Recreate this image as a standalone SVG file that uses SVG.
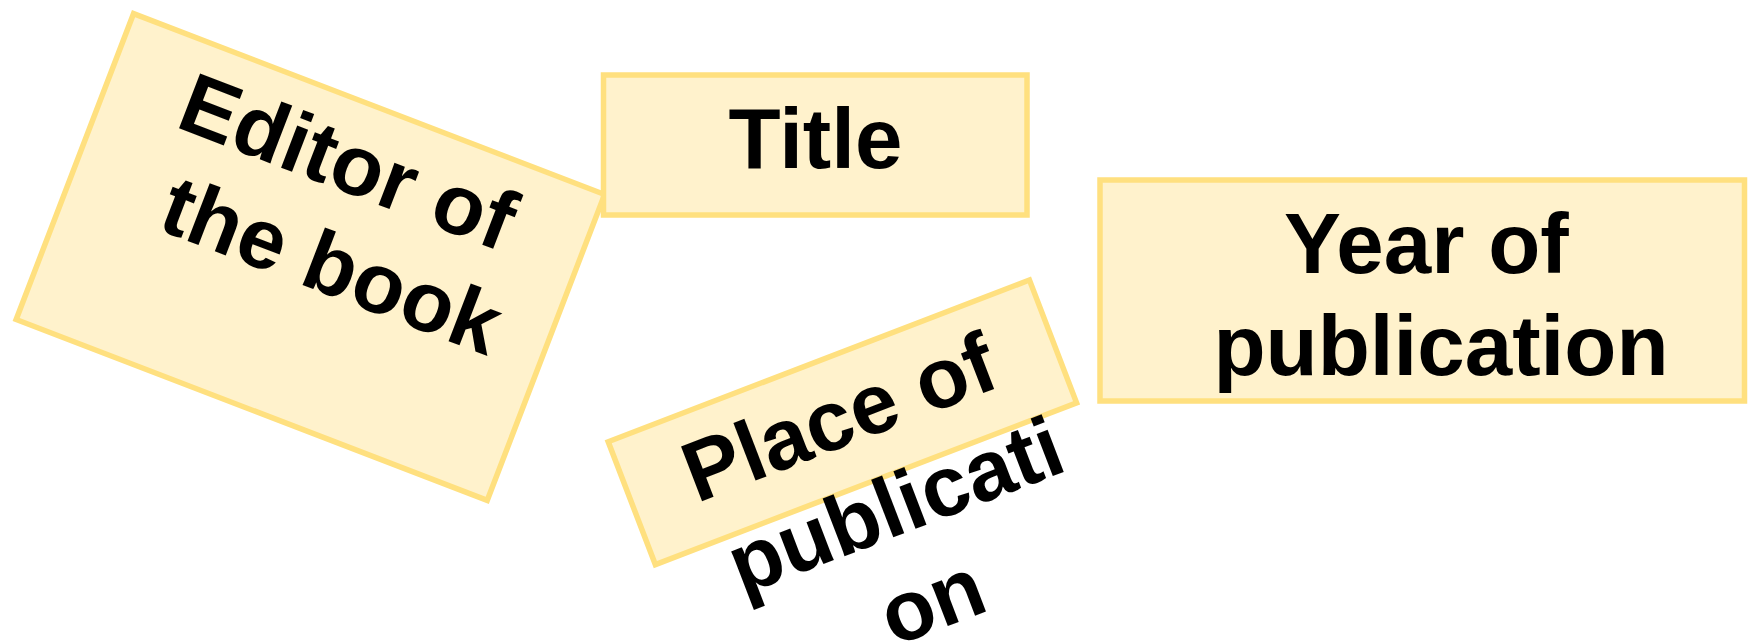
<svg xmlns="http://www.w3.org/2000/svg" width="1750" height="643" viewBox="0 0 1750 643">
  <style>
    .box { fill: #FFF2CC; stroke: #FFE07F; stroke-width: 5.5; }
    .lbl { font-family: "Liberation Sans", Arial, sans-serif; font-weight: bold; font-size: 85.33px; fill: #000000; text-anchor: middle; }
  </style>
  <rect width="1750" height="643" fill="#FFFFFF"/>
  <g id="connectors"/>
  <g id="node-editor" transform="translate(310.4,257) rotate(21)">
    <rect class="box" x="-252.3" y="-163.8" width="504.6" height="327.6"/>
    <text class="lbl" x="1" y="-73">Editor of</text>
    <text class="lbl" x="23" y="29">the book</text>
  </g>
  <g id="node-title">
    <rect class="box" x="603.5" y="75" width="423.5" height="140"/>
    <text class="lbl" x="815.5" y="168.3">Title</text>
  </g>
  <g id="node-year">
    <rect class="box" x="1100" y="180" width="644.5" height="221"/>
    <text class="lbl" x="1426.4" y="272.7">Year of</text>
    <text class="lbl" x="1441" y="375">publication</text>
  </g>
  <g id="node-place" transform="translate(842.4,422.3) rotate(-21)">
    <rect class="box" x="-225.6" y="-65.8" width="451.2" height="131.6"/>
    <text class="lbl" x="-1.3" y="23.3">Place of</text>
    <text class="lbl" x="19.5" y="125.7">publicati</text>
    <text class="lbl" x="19.5" y="228">on</text>
  </g>
</svg>
